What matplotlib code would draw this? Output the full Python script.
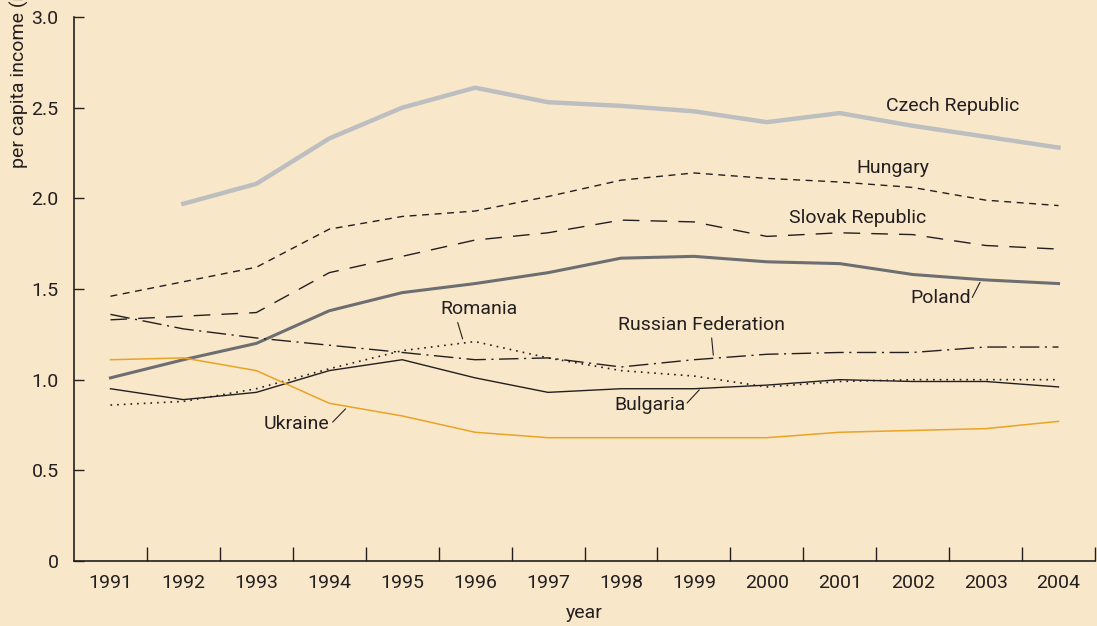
import matplotlib
matplotlib.use("Agg")
import matplotlib.pyplot as plt
from matplotlib.ticker import FixedLocator

plt.rcParams['font.family'] = ['Roboto', 'DejaVu Sans']

years = list(range(1991, 2005))
czech = [None, 1.97, 2.08, 2.33, 2.50, 2.61, 2.53, 2.51, 2.48, 2.42, 2.47, 2.40, 2.34, 2.28]
hungary = [1.46, 1.54, 1.62, 1.83, 1.90, 1.93, 2.01, 2.10, 2.14, 2.11, 2.09, 2.06, 1.99, 1.96]
slovak = [1.33, 1.35, 1.37, 1.59, 1.68, 1.77, 1.81, 1.88, 1.87, 1.79, 1.81, 1.80, 1.74, 1.72]
poland = [1.01, 1.11, 1.20, 1.38, 1.48, 1.53, 1.59, 1.67, 1.68, 1.65, 1.64, 1.58, 1.55, 1.53]
russia = [1.36, 1.28, 1.23, 1.19, 1.15, 1.11, 1.12, 1.07, 1.11, 1.14, 1.15, 1.15, 1.18, 1.18]
romania = [0.86, 0.88, 0.95, 1.06, 1.16, 1.21, 1.12, 1.05, 1.02, 0.96, 0.99, 1.00, 1.00, 1.00]
bulgaria = [0.95, 0.89, 0.93, 1.05, 1.11, 1.01, 0.93, 0.95, 0.95, 0.97, 1.00, 0.99, 0.99, 0.96]
ukraine = [1.11, 1.12, 1.05, 0.87, 0.80, 0.71, 0.68, 0.68, 0.68, 0.68, 0.71, 0.72, 0.73, 0.77]
yticks = [0, 0.5, 1.0, 1.5, 2.0, 2.5, 3.0]
ylabels = ['0', '0.5', '1.0', '1.5', '2.0', '2.5', '3.0']

bg = '#F9E7CA'
ink = '#231F20'

fig = plt.figure(figsize=(10.97, 6.26), dpi=100, facecolor=bg)
ax = fig.add_axes([74/1097, 65/626, (1095-74)/1097, (561-17)/626])
ax.set_facecolor(bg)

ax.plot(years[1:], czech[1:], color='#BDBEC0', lw=3.2)
ax.plot(years, hungary, color=ink, lw=1.0, dashes=(5, 4))
ax.plot(years, slovak, color=ink, lw=1.0, dashes=(12, 8))
ax.plot(years, poland, color='#6D6E71', lw=2.2)
ax.plot(years, russia, color=ink, lw=1.0, dashes=(14, 4, 1.5, 4))
ax.plot(years, romania, color=ink, lw=1.2, dashes=(1, 3))
ax.plot(years, bulgaria, color=ink, lw=1.0)
ax.plot(years, ukraine, color='#E9A327', lw=1.1)

ax.set_xlim(1990.5, 2004.5)
ax.set_ylim(0, 3.0)
ax.set_yticks(yticks)
ax.set_yticklabels(ylabels)
ax.set_xticks(years)
ax.set_xticklabels([str(y) for y in years])
ax.xaxis.set_minor_locator(FixedLocator([y + 0.5 for y in years]))
ax.tick_params(axis='x', which='major', length=0, pad=9, labelsize=14, colors=ink)
ax.tick_params(axis='x', which='minor', direction='in', length=10, width=1, color=ink)
ax.tick_params(axis='y', which='major', direction='in', length=7, width=1, pad=11, labelsize=14, colors=ink)
for s in ['top', 'right']:
    ax.spines[s].set_visible(False)
for s in ['left', 'bottom']:
    ax.spines[s].set_color(ink)
    ax.spines[s].set_linewidth(1.2)

ax.set_xlabel('year', fontsize=14, color=ink, labelpad=9)
fig.text(19/1097, (626-168)/626, 'per capita income (relative)', rotation=90,
         ha='center', va='bottom', fontsize=14, color=ink)

fs = 14
line = dict(arrowstyle='-', color=ink, lw=0.8)
ax.text(2002.55, 2.51, 'Czech Republic', fontsize=fs, color=ink, ha='center', va='center')
ax.text(2001.73, 2.17, 'Hungary', fontsize=fs, color=ink, ha='center', va='center')
ax.text(2001.24, 1.89, 'Slovak Republic', fontsize=fs, color=ink, ha='center', va='center')
ax.text(2002.39, 1.45, 'Poland', fontsize=fs, color=ink, ha='center', va='center')
ax.annotate('', xy=(2002.94, 1.55), xytext=(2002.8, 1.44), arrowprops=line)
ax.text(1996.05, 1.39, 'Romania', fontsize=fs, color=ink, ha='center', va='center')
ax.annotate('', xy=(1995.84, 1.21), xytext=(1995.75, 1.33), arrowprops=line)
ax.text(1999.1, 1.30, 'Russian Federation', fontsize=fs, color=ink, ha='center', va='center')
ax.annotate('', xy=(1999.27, 1.12), xytext=(1999.24, 1.245), arrowprops=line)
ax.text(1998.4, 0.86, 'Bulgaria', fontsize=fs, color=ink, ha='center', va='center')
ax.annotate('', xy=(1999.1, 0.955), xytext=(1998.88, 0.86), arrowprops=line)
ax.text(1993.55, 0.755, 'Ukraine', fontsize=fs, color=ink, ha='center', va='center')
ax.annotate('', xy=(1994.25, 0.85), xytext=(1994.02, 0.755), arrowprops=line)

fig.savefig('out.png', dpi=100, facecolor=bg)
